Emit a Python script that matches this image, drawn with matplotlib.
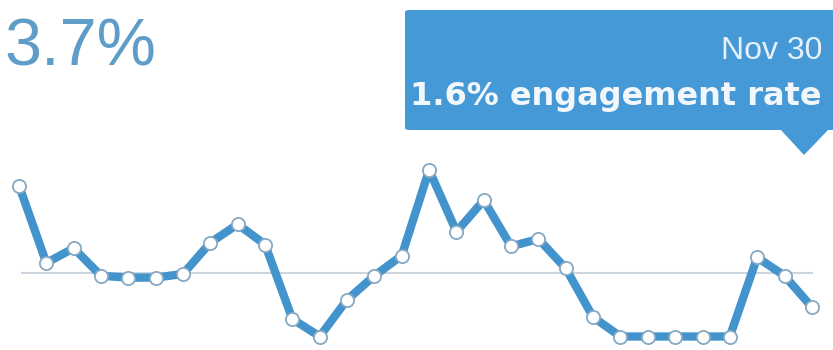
import numpy as np
import matplotlib.pyplot as plt
from matplotlib.patches import FancyBboxPatch, Polygon

# daily engagement rate (%) for November
days = list(range(1, 31))
rates = [8.2, 4.0, 4.8, 3.3, 3.2, 3.2, 3.4, 5.1, 6.1, 5.0,
         0.95, 0.0, 2.0, 3.3, 4.4, 9.05, 5.7, 7.4, 4.9, 5.3,
         3.7, 1.05, 0.0, 0.0, 0.0, 0.0, 0.0, 4.3, 3.3, 1.6]
headline = "3.7%"
tip_date = "Nov 30"
tip_text = "1.6% engagement rate"

W, H = 833, 350
fig = plt.figure(figsize=(W / 100, H / 100), dpi=100)
ax = fig.add_axes([0, 0, 1, 1])
ax.set_axis_off()

x = np.arange(len(days))
avg = np.mean(rates)

ax.plot([x[0] + 0.1, x[-1]], [avg, avg], color="#cdd6df", lw=1.5, zorder=1)
ax.plot(x, rates, color="#4393cd", lw=6, solid_joinstyle="round",
        marker="o", ms=9.5, mfc="white", mec="#86a8c2", mew=1.3, zorder=2)

# map pixels to data: x0 at 19px, 27.34px per day; 0% at 336.5px, 18.4px per %
ax.set_xlim(-19 / 27.34, (W - 19) / 27.34)
ax.set_ylim(-(H - 336.5) / 18.4, 336.5 / 18.4)


def fx(px):
    return px / W


def fy(py):
    return 1 - py / H


fig.text(fx(4), fy(66), headline, fontsize=48, color="#609cc8",
         family="Liberation Sans", ha="left", va="baseline")

box_col = "#4499d6"
box = FancyBboxPatch((fx(405), fy(130)), fx(460), fy(10) - fy(130),
                     boxstyle="round,pad=0,rounding_size=0.006",
                     transform=fig.transFigure, fc=box_col, ec="none")
fig.patches.append(box)
tri = Polygon([(fx(780), fy(129)), (fx(829), fy(129)), (fx(804), fy(155))],
              closed=True, transform=fig.transFigure, fc=box_col, ec="none")
fig.patches.append(tri)

fig.text(fx(822), fy(59), tip_date, fontsize=23, color="#e8f1f9",
         family="Liberation Sans", ha="right", va="baseline")
fig.text(fx(822), fy(105), tip_text, fontsize=23, color="#f2f7fc",
         family="DejaVu Sans", weight="bold", ha="right", va="baseline")

fig.savefig("out.png", dpi=100)
